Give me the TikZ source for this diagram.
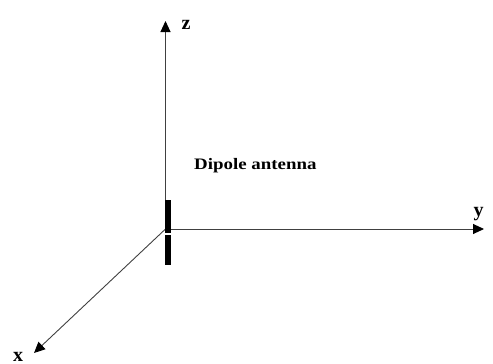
\documentclass[tikz,border=0pt]{standalone}
\usepackage{fontspec}
\setmainfont{Liberation Serif}
\usetikzlibrary{arrows.meta}
\begin{document}
\begin{tikzpicture}[x=1pt,y=-1pt,
  axis/.style={draw=black!75, line width=0.9pt, -{Triangle[length=11pt,width=10pt,color=black]}},
  axlabel/.style={font=\fontsize{20}{22}\selectfont\bfseries, inner sep=0pt},
  antenna/.style={draw=black, line width=5.5pt}]
\useasboundingbox (0,0) rectangle (493,364);
\coordinate (O) at (165.5,229);
\coordinate (zend) at (165.5,21);
\coordinate (yend) at (484,229);
\coordinate (xend) at (34,353);
\draw[axis] (O) -- (zend);
\draw[axis] (O) -- (yend);
\draw[axis] (O) -- (xend);
\coordinate (a1) at (168,200);
\coordinate (a2) at (168,232.5);
\coordinate (a3) at (168,235);
\coordinate (a4) at (168,265);
\draw[antenna] (a1) -- (a2);
\draw[antenna] (a3) -- (a4);
\node[axlabel, anchor=base] (zl) at (186,29) {z};
\node[axlabel, anchor=base] (yl) at (478.5,216) {y};
\node[axlabel, anchor=base] (xl) at (18,361) {x};
\node[anchor=base west, inner sep=0pt, font=\fontsize{16}{18}\selectfont\bfseries, xscale=1.18, transform shape] (lab) at (194,169) {Dipole antenna};
\end{tikzpicture}
\end{document}
